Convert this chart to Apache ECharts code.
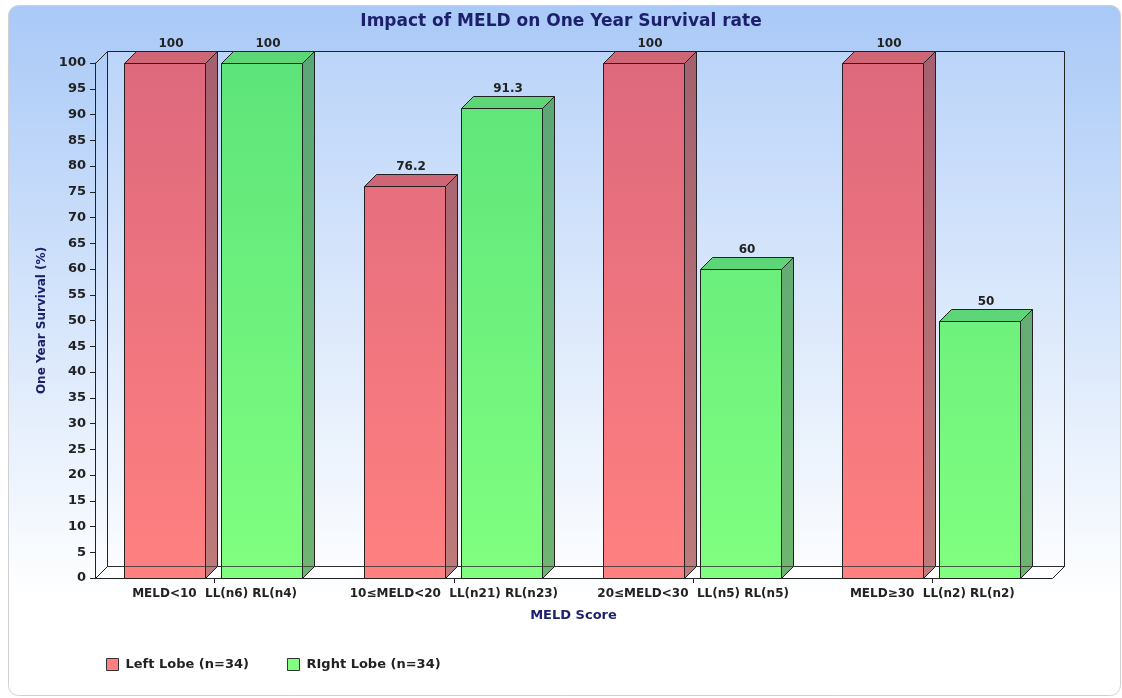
<!DOCTYPE html>
<html>
<head>
<meta charset="utf-8">
<script src="https://cdn.jsdelivr.net/npm/echarts@6/dist/echarts.min.js"></script>
<style>
html,body{margin:0;padding:0;background:#fff;}
#chart{width:1122px;height:698px;}
</style>
</head>
<body>
<div id="chart"></div>
<script>
const categories = ['MELD<10  LL(n6) RL(n4)', '10≤MELD<20  LL(n21) RL(n23)', '20≤MELD<30  LL(n5) RL(n5)', 'MELD≥30  LL(n2) RL(n2)'];
const leftLobe = [100, 76.2, 100, 100];
const rightLobe = [100, 91.3, 60, 50];
const seriesNames = ['Left Lobe (n=34)', 'RIght Lobe (n=34)'];
const yMin = 0, yMax = 100, yStep = 5;

const FONT = '"DejaVu Sans", Verdana, sans-serif';
const NAVY = '#1c1f6b';
const DEPTH = 12;

const palettes = {
  red:   { front: ['#de697d', '#ff8080'], side: ['#a5616f', '#bd7b7b'], top: '#cf6676', legend: '#ff8080' },
  green: { front: ['#5de47a', '#80ff80'], side: ['#5aa676', '#70b470'], top: '#5cd676', legend: '#80ff80' }
};

function grad(cs, c) {
  return { type: 'linear', x: 0, y: cs.y, x2: 0, y2: cs.y + cs.height, global: true,
    colorStops: [{ offset: 0, color: c[0] }, { offset: 1, color: c[1] }] };
}

function makeBar(offsetFrac, pal) {
  return function (params, api) {
    const idx = api.value(0), val = api.value(1);
    const top = api.coord([idx, val]);
    const base = api.coord([idx, 0]);
    const band = api.size([1, 0])[0];
    const cs = params.coordSys;
    const w = band * 0.339;
    const x0 = Math.round(top[0] + band * offsetFrac) + 0.5;
    const x1 = x0 + Math.round(w);
    const ty = Math.round(top[1]) + 0.5, by = Math.round(base[1]) + 0.5;
    const d = DEPTH;
    return {
      type: 'group',
      children: [
        { type: 'polygon', z2: 1, shape: { points: [[x1, ty], [x1 + d, ty - d], [x1 + d, by - d], [x1, by]] },
          style: { fill: grad(cs, pal.side), stroke: '#222', lineWidth: 1 } },
        { type: 'polygon', z2: 1, shape: { points: [[x0, ty], [x0 + d, ty - d], [x1 + d, ty - d], [x1, ty]] },
          style: { fill: pal.top, stroke: '#222', lineWidth: 1 } },
        { type: 'rect', z2: 2, shape: { x: x0, y: ty, width: x1 - x0, height: by - ty },
          style: { fill: grad(cs, pal.front), stroke: '#222', lineWidth: 1 } },
        { type: 'text', z2: 3, style: { text: String(val), x: (x0 + x1) / 2 + d / 2, y: ty - d - 2,
          align: 'center', verticalAlign: 'bottom', font: 'bold 12px ' + FONT, fill: '#222' } }
      ]
    };
  };
}

function frameUnder(params) {
  const cs = params.coordSys;
  const x = cs.x + 0.5, y = cs.y + 0.5, w = cs.width, h = cs.height, d = DEPTH;
  const yb = y + h;
  return {
    type: 'group',
    children: [
      { type: 'polygon', shape: { points: [[x + d, y - d], [x + w + d, y - d], [x + w + d, yb - d], [x + d, yb - d]] },
        style: { fill: 'rgba(255,255,255,0.15)', stroke: '#222', lineWidth: 1 } },
      { type: 'polygon', shape: { points: [[x, yb], [x + w, yb], [x + w + d, yb - d], [x + d, yb - d]] },
        style: { fill: '#ffffff', stroke: '#222', lineWidth: 1 } },
      { type: 'polyline', shape: { points: [[x, y], [x + d, y - d]] }, style: { stroke: '#222', lineWidth: 1, fill: null } }
    ]
  };
}

function frameOver(params) {
  const cs = params.coordSys;
  const x = cs.x + 0.5, y = cs.y + 0.5, w = cs.width, h = cs.height, d = DEPTH;
  const yb = y + h;
  return { type: 'polyline', shape: { points: [[x + d, yb - d], [x + w + d, yb - d]] },
    style: { stroke: '#333', lineWidth: 1, fill: null, opacity: 0.8 } };
}

const chart = echarts.init(document.getElementById('chart'), null, { renderer: 'canvas' });
chart.setOption({
  animation: false,
  graphic: [{
    type: 'rect', z: -10, left: 8, top: 5,
    shape: { width: 1112, height: 690, r: 10 },
    style: {
      fill: { type: 'linear', x: 0, y: 0, x2: 0, y2: 1,
        colorStops: [{ offset: 0, color: '#a9c9f7' }, { offset: 0.86, color: '#ffffff' }, { offset: 1, color: '#ffffff' }] },
      stroke: '#d0d0d0', lineWidth: 1
    }
  }],
  title: {
    text: 'Impact of MELD on One Year Survival rate',
    left: 'center', top: 8,
    textStyle: { fontFamily: FONT, fontWeight: 'bold', fontSize: 17, color: NAVY }
  },
  legend: {
    data: seriesNames,
    left: 101, top: 653,
    icon: 'rect', itemWidth: 12, itemHeight: 12, itemGap: 38,
    itemStyle: { borderColor: '#333', borderWidth: 1 },
    textStyle: { fontFamily: FONT, fontWeight: 'bold', fontSize: 13, color: '#222', padding: [0, 0, 0, 2] }
  },
  grid: { left: 95, right: 70, top: 63, bottom: 120, containLabel: false },
  xAxis: {
    type: 'category', data: categories, boundaryGap: true,
    name: 'MELD Score', nameLocation: 'middle', nameGap: 31,
    nameTextStyle: { fontFamily: FONT, fontWeight: 'bold', fontSize: 13, color: NAVY },
    axisLine: { show: true, lineStyle: { color: '#222', width: 1 } },
    axisTick: { show: true, alignWithLabel: true, length: 5, lineStyle: { color: '#222' } },
    axisLabel: { fontFamily: FONT, fontWeight: 'bold', fontSize: 12, color: '#222', margin: 10, interval: 0 },
    splitLine: { show: false }
  },
  yAxis: {
    type: 'value', min: yMin, max: yMax, interval: yStep,
    name: 'One Year Survival (%)', nameLocation: 'middle', nameGap: 44,
    nameTextStyle: { fontFamily: FONT, fontWeight: 'bold', fontSize: 12, color: NAVY },
    axisLine: { show: true, lineStyle: { color: '#222', width: 1 } },
    axisTick: { show: true, length: 5, lineStyle: { color: '#222' } },
    axisLabel: { fontFamily: FONT, fontWeight: 'bold', fontSize: 13, color: '#222', margin: 9 },
    splitLine: { show: false }
  },
  series: [
    { type: 'custom', name: '_frame', z: 1, silent: true, clip: false, data: [[0, 0]], encode: { x: 0, y: 1 }, renderItem: frameUnder },
    { type: 'custom', name: seriesNames[0], z: 2, clip: false, itemStyle: { color: palettes.red.legend },
      data: leftLobe.map((v, i) => [i, v]), encode: { x: 0, y: 1 }, renderItem: makeBar(-0.377, palettes.red) },
    { type: 'custom', name: seriesNames[1], z: 2, clip: false, itemStyle: { color: palettes.green.legend },
      data: rightLobe.map((v, i) => [i, v]), encode: { x: 0, y: 1 }, renderItem: makeBar(0.028, palettes.green) },
    { type: 'custom', name: '_frameTop', z: 3, silent: true, clip: false, data: [[0, 0]], encode: { x: 0, y: 1 }, renderItem: frameOver }
  ]
});
</script>
</body>
</html>
